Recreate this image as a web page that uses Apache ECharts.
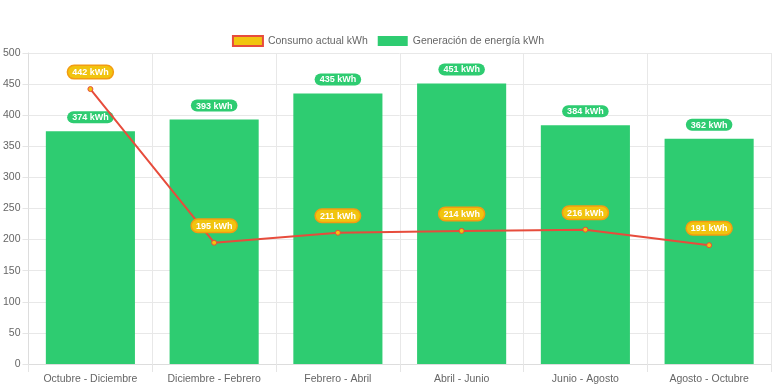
<!DOCTYPE html>
<html>
<head>
<meta charset="utf-8">
<script src="https://cdn.jsdelivr.net/npm/echarts@6/dist/echarts.min.js"></script>
<style>html,body{margin:0;padding:0;background:#fff}#c{width:776px;height:388px}</style>
</head>
<body>
<div id="c"></div>
<script>
var categories = ['Octubre - Diciembre','Diciembre - Febrero','Febrero - Abril','Abril - Junio','Junio - Agosto','Agosto - Octubre'];
var consumo = [442, 195, 211, 214, 216, 191];
var generacion = [374, 393, 435, 451, 384, 362];
var font = "'Liberation Sans', Arial, Helvetica, sans-serif";
var chart = echarts.init(document.getElementById('c'));
chart.setOption({
  animation: false,
  textStyle: {fontFamily: font},
  legend: {
    top: 30, left: 'center', itemWidth: 30, itemHeight: 10, itemGap: 10,
    textStyle: {color: '#666', fontSize: 10.5, fontFamily: font},
    data: [
      {name: 'Consumo actual kWh', icon: 'rect'},
      {name: 'Generación de energía kWh', icon: 'rect'}
    ]
  },
  grid: {left: 26, right: 5, top: 53, bottom: 24, containLabel: false},
  xAxis: {
    type: 'category', data: categories, boundaryGap: true,
    axisLine: {show: true, lineStyle: {color: '#ddd'}},
    axisTick: {show: true, interval: 0, length: 8, lineStyle: {color: '#e5e5e5'}},
    splitLine: {show: true, interval: 0, lineStyle: {color: '#e8e8e8'}},
    axisLabel: {interval: 0, color: '#666', fontSize: 10.5, fontFamily: font, margin: 10}
  },
  yAxis: {
    type: 'value', min: 0, max: 500, interval: 50,
    axisLine: {show: true, lineStyle: {color: '#ddd'}},
    axisTick: {show: true, length: 6, lineStyle: {color: '#e5e5e5'}},
    splitLine: {show: true, lineStyle: {color: '#e8e8e8'}},
    axisLabel: {color: '#666', fontSize: 10.5, fontFamily: font, margin: 8}
  },
  series: [
    {
      name: 'Consumo actual kWh', type: 'line', data: consumo, z: 5,
      symbol: 'circle', symbolSize: 5,
      lineStyle: {color: '#e74c3c', width: 2},
      itemStyle: {color: '#f1c40f', borderColor: '#e74c3c', borderWidth: 1},
      label: {
        show: true, position: 'top', distance: 8,
        formatter: '{c} kWh', color: '#fff', fontWeight: 'bold', fontSize: 9, fontFamily: font,
        backgroundColor: '#f1c40f', borderColor: '#f39c12', borderWidth: 1.5, borderRadius: 7,
        padding: [2, 4, 1, 4]
      }
    },
    {
      name: 'Generación de energía kWh', type: 'bar', data: generacion, z: 2,
      barWidth: '72%',
      itemStyle: {color: '#2ecc71'},
      label: {
        show: true, position: 'top', distance: 8,
        formatter: '{c} kWh', color: '#fff', fontWeight: 'bold', fontSize: 9, fontFamily: font,
        backgroundColor: '#2ecc71', borderRadius: 7, padding: [2, 5, 1, 5]
      }
    }
  ]
});
</script>
</body>
</html>
